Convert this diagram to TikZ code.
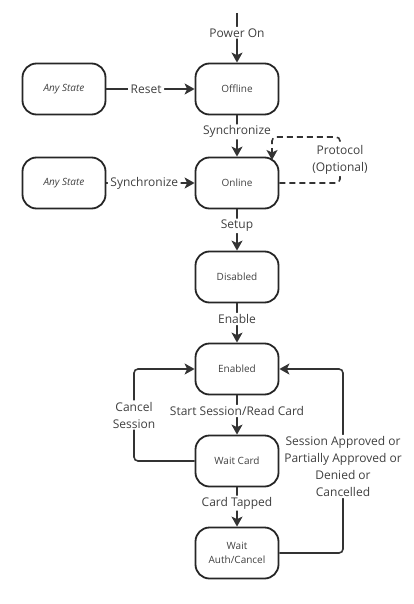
\documentclass[tikz,border=0pt]{standalone}
\usepackage{fontspec}
\setmainfont{Open Sans}
\usetikzlibrary{arrows.meta}
\begin{document}
\begin{tikzpicture}[x=1pt,y=-1pt]
\tikzstyle{state}=[draw=black!85,line width=1.8pt,rounded corners=14pt,minimum width=83pt,minimum height=51pt,align=center,text=black!75,font=\fontsize{10}{14}\selectfont]
\tikzstyle{trans}=[line width=1.6pt,draw=black!80,rounded corners=4pt,-{Stealth[length=10pt,width=11pt,inset=2.5pt]}]
\tikzstyle{lbl}=[fill=white,text=black!75,font=\fontsize{12}{17}\selectfont,align=center,inner xsep=2.5pt,inner ysep=1.5pt]
\useasboundingbox (0,0) rectangle (413,604);
\node[state] (offline) at (237,89) {Offline};
\node[state] (anyreset) at (64,89) {\itshape Any State};
\node[state] (online) at (237,183) {Online};
\node[state] (anysync) at (64,183) {\itshape Any State};
\node[state] (disabled) at (237,277) {Disabled};
\node[state] (enabled) at (237,369) {Enabled};
\node[state] (waitcard) at (237,461) {Wait Card};
\node[state] (waitauth) at (237,553) {Wait\\Auth/Cancel};
\coordinate (poweron) at (237,13);
\coordinate (protoend) at (272,160);
\draw[trans] (poweron) -- node[lbl,pos=0.4] {Power On} (offline.north);
\draw[trans] (anyreset.east) -- node[lbl,pos=0.45] {Reset} (offline.west);
\draw[trans] (offline.south) -- node[lbl,pos=0.4] {Synchronize} (online.north);
\draw[trans,dash pattern=on 6pt off 4pt] (online.east) -- (340,183) -- node[lbl] {Protocol\\(Optional)} (340,137) -- (272,137) -- (protoend);
\draw[trans] (anysync.east) -- node[lbl,pos=0.43] {Synchronize} (online.west);
\draw[trans] (online.south) -- node[lbl,pos=0.4] {Setup} (disabled.north);
\draw[trans] (disabled.south) -- node[lbl,pos=0.4] {Enable} (enabled.north);
\draw[trans] (enabled.south) -- node[lbl,pos=0.4] {Start Session/Read Card} (waitcard.north);
\draw[trans] (waitcard.south) -- node[lbl,pos=0.4] {Card Tapped} (waitauth.north);
\draw[trans] (waitcard.west) -- (134,461) -- node[lbl] {Cancel\\Session} (134,369) -- (enabled.west);
\draw[trans] (waitauth.east) -- (343,553) -- node[lbl,pos=0.47] {Session Approved or\\Partially Approved or\\Denied or\\Cancelled} (343,369) -- (enabled.east);
\end{tikzpicture}
\end{document}
